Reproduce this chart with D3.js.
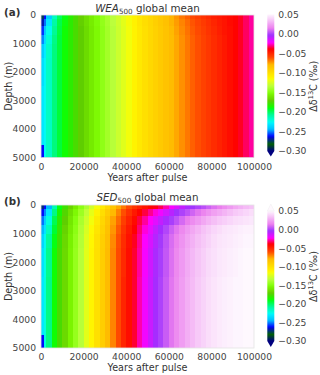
<!DOCTYPE html>
<html>
<head>
<meta charset="utf-8">
<script src="https://cdn.jsdelivr.net/npm/d3@7"></script>
<style>
  body { margin: 0; background: #fff; }
  text { font-family: "DejaVu Sans", sans-serif; fill: #333; }
</style>
</head>
<body>
<div id="chart-area"></div>
<script>

//  Grid of the model output (years after pulse, depth in m)

var timeEdges = [0, 1500, 2500, 5000, 7500, 10000, 12500, 15000, 17500, 20000,
    22500, 25000, 27500, 30000, 32500, 35000, 37500, 40000, 42500, 45000, 47500,
    50000, 52500, 55000, 57500, 60000, 62500, 65000, 67500, 70000, 72500, 75000,
    77500, 80000, 82500, 85000, 87500, 90000, 92500, 95000, 97500, 100000];
var depthEdges = [0, 150, 400, 700, 1000, 1500, 2500, 4550, 5000];

var xTicks = [0, 20000, 40000, 60000, 80000, 100000];
var yTicks = [0, 1000, 2000, 3000, 4000, 5000];
var cbTicks = [0.05, 0.00, -0.05, -0.10, -0.15, -0.20, -0.25, -0.30];

//  (a) WEA500 global mean, one array per depth band

var wea_0_150 = [-0.275, -0.262, -0.240, -0.215, -0.200, -0.190, -0.183, -0.176, -0.170, -0.164,
    -0.158, -0.152, -0.146, -0.140, -0.134, -0.128, -0.122, -0.116, -0.110, -0.104,
    -0.099, -0.095, -0.091, -0.087, -0.083, -0.078, -0.073, -0.068, -0.064, -0.060,
    -0.057, -0.054, -0.051, -0.048, -0.046, -0.044, -0.042, -0.040, -0.037, -0.033, -0.029];
var wea_150_400 = [-0.268, -0.252, -0.232, -0.210, -0.197, -0.189, -0.182, -0.176, -0.170, -0.164,
    -0.158, -0.152, -0.146, -0.140, -0.134, -0.128, -0.122, -0.116, -0.110, -0.104,
    -0.099, -0.095, -0.091, -0.087, -0.083, -0.078, -0.074, -0.070, -0.066, -0.062,
    -0.059, -0.056, -0.053, -0.050, -0.047, -0.045, -0.042, -0.040, -0.037, -0.033, -0.029];
var wea_400_700 = [-0.258, -0.242, -0.225, -0.207, -0.196, -0.188, -0.182, -0.176, -0.171, -0.165,
    -0.159, -0.153, -0.147, -0.141, -0.135, -0.129, -0.123, -0.117, -0.111, -0.105,
    -0.100, -0.096, -0.092, -0.088, -0.084, -0.079, -0.075, -0.071, -0.067, -0.063,
    -0.060, -0.057, -0.054, -0.051, -0.048, -0.045, -0.043, -0.040, -0.037, -0.033, -0.029];
var wea_700_1000 = [-0.250, -0.235, -0.220, -0.205, -0.195, -0.188, -0.182, -0.176, -0.171, -0.165,
    -0.159, -0.153, -0.147, -0.141, -0.135, -0.129, -0.123, -0.117, -0.111, -0.105,
    -0.100, -0.096, -0.092, -0.088, -0.084, -0.080, -0.076, -0.072, -0.068, -0.064,
    -0.061, -0.058, -0.055, -0.052, -0.049, -0.046, -0.043, -0.040, -0.037, -0.033, -0.029];
var wea_1000_1500 = [-0.240, -0.230, -0.217, -0.204, -0.195, -0.188, -0.182, -0.176, -0.171, -0.165,
    -0.159, -0.153, -0.147, -0.141, -0.135, -0.129, -0.123, -0.117, -0.111, -0.105,
    -0.100, -0.096, -0.092, -0.088, -0.084, -0.080, -0.076, -0.072, -0.068, -0.064,
    -0.061, -0.058, -0.055, -0.052, -0.049, -0.046, -0.043, -0.040, -0.037, -0.033, -0.029];
var wea_1500_2500 = [-0.235, -0.227, -0.216, -0.204, -0.195, -0.188, -0.182, -0.176, -0.171, -0.165,
    -0.159, -0.153, -0.147, -0.141, -0.135, -0.129, -0.123, -0.117, -0.111, -0.105,
    -0.100, -0.096, -0.092, -0.088, -0.084, -0.080, -0.076, -0.072, -0.068, -0.064,
    -0.061, -0.058, -0.055, -0.052, -0.049, -0.046, -0.043, -0.040, -0.037, -0.033, -0.029];
var wea_2500_4550 = [-0.232, -0.226, -0.216, -0.204, -0.195, -0.188, -0.182, -0.176, -0.171, -0.165,
    -0.159, -0.153, -0.147, -0.141, -0.135, -0.129, -0.123, -0.117, -0.111, -0.105,
    -0.100, -0.096, -0.092, -0.088, -0.084, -0.080, -0.076, -0.072, -0.068, -0.064,
    -0.061, -0.058, -0.055, -0.052, -0.049, -0.046, -0.043, -0.040, -0.037, -0.033, -0.029];
var wea_4550_5000 = [-0.262, -0.226, -0.216, -0.204, -0.195, -0.188, -0.182, -0.176, -0.171, -0.165,
    -0.159, -0.153, -0.147, -0.141, -0.135, -0.129, -0.123, -0.117, -0.111, -0.105,
    -0.100, -0.096, -0.092, -0.088, -0.084, -0.080, -0.076, -0.072, -0.068, -0.064,
    -0.061, -0.058, -0.055, -0.052, -0.049, -0.046, -0.043, -0.040, -0.037, -0.033, -0.029];

//  (b) SED500 global mean, one array per depth band

var sed_0_150 = [-0.272, -0.262, -0.245, -0.212, -0.190, -0.178, -0.168, -0.158, -0.148, -0.138,
    -0.127, -0.116, -0.105, -0.095, -0.085, -0.076, -0.068, -0.060, -0.054, -0.049,
    -0.045, -0.041, -0.038, -0.034, -0.028, -0.022, -0.016, -0.011, -0.006, -0.003,
    0.000, 0.003, 0.007, 0.011, 0.014, 0.018, 0.022, 0.026, 0.029, 0.032, 0.034];
var sed_150_400 = [-0.262, -0.250, -0.232, -0.205, -0.186, -0.174, -0.163, -0.153, -0.143, -0.132,
    -0.121, -0.110, -0.099, -0.089, -0.079, -0.070, -0.061, -0.053, -0.046, -0.040,
    -0.035, -0.030, -0.025, -0.020, -0.014, -0.009, -0.004, 0.000, 0.004, 0.008,
    0.012, 0.016, 0.020, 0.024, 0.027, 0.030, 0.033, 0.036, 0.038, 0.040, 0.042];
var sed_400_700 = [-0.252, -0.240, -0.222, -0.198, -0.182, -0.171, -0.160, -0.150, -0.139, -0.128,
    -0.117, -0.106, -0.095, -0.085, -0.075, -0.066, -0.057, -0.049, -0.042, -0.035,
    -0.029, -0.023, -0.017, -0.011, -0.006, -0.001, 0.004, 0.009, 0.014, 0.018,
    0.022, 0.026, 0.030, 0.033, 0.036, 0.038, 0.040, 0.042, 0.043, 0.044, 0.045];
var sed_700_1000 = [-0.245, -0.233, -0.215, -0.194, -0.180, -0.169, -0.158, -0.148, -0.137, -0.125,
    -0.114, -0.103, -0.093, -0.083, -0.073, -0.063, -0.054, -0.046, -0.039, -0.032,
    -0.025, -0.018, -0.011, -0.005, 0.001, 0.007, 0.012, 0.017, 0.022, 0.026,
    0.030, 0.034, 0.037, 0.040, 0.042, 0.044, 0.045, 0.046, 0.047, 0.048, 0.048];
var sed_1000_1500 = [-0.238, -0.226, -0.208, -0.190, -0.178, -0.167, -0.156, -0.146, -0.136, -0.123,
    -0.113, -0.101, -0.091, -0.081, -0.071, -0.061, -0.052, -0.044, -0.037, -0.030,
    -0.022, -0.015, -0.008, -0.002, 0.004, 0.010, 0.015, 0.020, 0.025, 0.029,
    0.033, 0.036, 0.039, 0.042, 0.044, 0.045, 0.046, 0.047, 0.048, 0.049, 0.049];
var sed_1500_2500 = [-0.234, -0.223, -0.206, -0.188, -0.176, -0.166, -0.155, -0.145, -0.135, -0.122,
    -0.112, -0.100, -0.090, -0.080, -0.070, -0.060, -0.051, -0.043, -0.036, -0.029,
    -0.021, -0.013, -0.006, -0.001, 0.005, 0.011, 0.017, 0.022, 0.027, 0.031,
    0.035, 0.038, 0.041, 0.043, 0.045, 0.046, 0.047, 0.048, 0.049, 0.050, 0.050];
var sed_2500_4550 = [-0.232, -0.222, -0.205, -0.188, -0.176, -0.166, -0.155, -0.145, -0.135, -0.122,
    -0.112, -0.100, -0.090, -0.080, -0.070, -0.060, -0.050, -0.043, -0.036, -0.028,
    -0.020, -0.012, -0.005, 0.000, 0.006, 0.012, 0.018, 0.023, 0.028, 0.032,
    0.036, 0.039, 0.042, 0.044, 0.046, 0.047, 0.048, 0.049, 0.049, 0.050, 0.050];
var sed_4550_5000 = [-0.262, -0.222, -0.205, -0.188, -0.176, -0.166, -0.155, -0.145, -0.135, -0.122,
    -0.112, -0.100, -0.090, -0.080, -0.070, -0.060, -0.050, -0.043, -0.036, -0.028,
    -0.020, -0.012, -0.005, 0.000, 0.006, 0.012, 0.018, 0.023, 0.028, 0.032,
    0.036, 0.039, 0.042, 0.044, 0.046, 0.047, 0.048, 0.049, 0.049, 0.050, 0.050];

var weaRows = [wea_0_150, wea_150_400, wea_400_700, wea_700_1000, wea_1000_1500, wea_1500_2500, wea_2500_4550, wea_4550_5000];
var sedRows = [sed_0_150, sed_150_400, sed_400_700, sed_700_1000, sed_1000_1500, sed_1500_2500, sed_2500_4550, sed_4550_5000];

//  gist_ncar colormap segments

var ncarR = [[0, 0], [0.3098, 0], [0.3725, 0.3993], [0.4235, 0.5003], [0.5333, 1], [0.7922, 1],
    [0.8471, 0.6218], [0.898, 0.9235], [1, 0.9961]];
var ncarG = [[0, 0], [0.051, 0.3722], [0.1059, 0], [0.1569, 0.7202], [0.1608, 0.7537], [0.1647, 0.7752],
    [0.2157, 1], [0.2588, 0.9804], [0.2706, 0.9804], [0.3176, 1], [0.3686, 0.8081], [0.4275, 1],
    [0.5216, 1], [0.6314, 0.7292], [0.6863, 0.2796], [0.7451, 0], [0.7922, 0], [0.8431, 0.1753],
    [0.898, 0.5], [1, 0.9725]];
var ncarB = [[0, 0.502], [0.051, 0.0222], [0.1098, 1], [0.2039, 1], [0.2627, 0.6145], [0.3216, 0],
    [0.4157, 0], [0.4745, 0.2342], [0.5333, 0], [0.7451, 0], [0.7922, 1], [0.8431, 1],
    [0.898, 0.9341], [1, 0.9961]];

var chan = (seg) => d3.scaleLinear().domain(seg.map((s) => s[0])).range(seg.map((s) => s[1])).clamp(true);
var cr = chan(ncarR), cg = chan(ncarG), cb = chan(ncarB);
var norm = d3.scaleLinear().domain([-0.30, 0.05]).range([0, 1]).clamp(true);
var cmapT = (t) => d3.rgb(cr(t) * 255, cg(t) * 255, cb(t) * 255).toString();
var color = (v) => cmapT(norm(v));

//  SVG canvas

var svg = d3.select("#chart-area").append("svg")
    .attr("width", 320)
    .attr("height", 375);

var defs = svg.append("defs");
var grad = defs.append("linearGradient")
    .attr("id", "cbar")
    .attr("x1", 0).attr("y1", 1).attr("x2", 0).attr("y2", 0);
grad.selectAll("stop")
    .data(d3.range(0, 1.0001, 0.01))
    .enter()
    .append("stop")
    .attr("offset", (d) => d)
    .attr("stop-color", (d) => cmapT(d));

var x = d3.scaleLinear().domain([0, 100000]).range([41, 254]);

var panels = [
    { tag: "(a)", name: "WEA", rows: weaRows, top: 15, bottom: 157.5,
      cbTop: 14.3, cbBot: 151, extTop: false, extBot: 156.5,
      titleY: 11.5, tagY: 16, tickY: 169.5, labelY: 180.5 },
    { tag: "(b)", name: "SED", rows: sedRows, top: 205, bottom: 348,
      cbTop: 211, cbBot: 341, extTop: 204, extBot: 347,
      titleY: 200.5, tagY: 204.5, tickY: 359.5, labelY: 370.5 }
];

panels.forEach((p) => {

    var y = d3.scaleLinear().domain([0, 5000]).range([p.top, p.bottom]);
    var g = svg.append("g");

    // heatmap cells

    var cells = [];
    p.rows.forEach((row, j) => {
        row.forEach((v, i) => {
            cells.push({ i: i, j: j, v: v });
        });
    });

    g.selectAll("rect.cell")
        .data(cells)
        .enter()
        .append("rect")
        .attr("class", "cell")
        .attr("x", (d) => x(timeEdges[d.i]))
        .attr("y", (d) => y(depthEdges[d.j]))
        .attr("width", (d) => x(timeEdges[d.i + 1]) - x(timeEdges[d.i]) + 0.4)
        .attr("height", (d) => y(depthEdges[d.j + 1]) - y(depthEdges[d.j]) + 0.4)
        .attr("fill", (d) => color(d.v))
        .attr("shape-rendering", "crispEdges");

    g.append("rect")
        .attr("x", 41).attr("y", p.top)
        .attr("width", 213).attr("height", p.bottom - p.top)
        .attr("fill", "none")
        .attr("stroke", "#e4e4e4")
        .attr("stroke-width", 0.8);

    // axes

    var xAxis = g.append("g")
        .attr("transform", "translate(0," + p.bottom + ")")
        .call(d3.axisBottom(x).tickValues(xTicks).tickFormat(d3.format("d")).tickSize(0).tickPadding(0));
    xAxis.select(".domain").remove();
    xAxis.selectAll("text")
        .attr("y", p.tickY - p.bottom)
        .attr("dy", 0)
        .attr("font-size", 9.2)
        .attr("font-family", "DejaVu Sans")
        .style("fill", "#444");

    var yAxis = g.append("g")
        .attr("transform", "translate(41,0)")
        .call(d3.axisLeft(y).tickValues(yTicks).tickFormat(d3.format("d")).tickSize(0).tickPadding(5));
    yAxis.select(".domain").remove();
    yAxis.selectAll("text")
        .attr("font-size", 9.2)
        .attr("font-family", "DejaVu Sans")
        .style("fill", "#444");

    g.append("text")
        .attr("x", 147.5).attr("y", p.labelY)
        .attr("text-anchor", "middle")
        .attr("font-size", 9.6)
        .text("Years after pulse");

    g.append("text")
        .attr("transform", "translate(12," + ((p.top + p.bottom) / 2) + ") rotate(-90)")
        .attr("text-anchor", "middle")
        .attr("font-size", 9.6)
        .text("Depth (m)");

    // title and panel tag

    var title = g.append("text")
        .attr("x", 147.5).attr("y", p.titleY)
        .attr("text-anchor", "middle")
        .attr("font-size", 10.3);
    title.append("tspan").attr("font-style", "italic").text(p.name);
    title.append("tspan").attr("font-size", 7.2).attr("dy", 2.6).text("500");
    title.append("tspan").attr("dy", -2.6).text(" global mean");

    g.append("text")
        .attr("x", 4).attr("y", p.tagY)
        .attr("font-size", 10.3)
        .attr("font-weight", "bold")
        .text(p.tag);

    // colorbar

    var c = d3.scaleLinear().domain([-0.30, 0.05]).range([p.cbBot, p.cbTop]);
    var cx0 = 267.3, cw = 7;

    g.append("rect")
        .attr("x", cx0).attr("y", c(0.05))
        .attr("width", cw).attr("height", c(-0.30) - c(0.05))
        .attr("fill", "url(#cbar)");

    g.append("path")
        .attr("d", "M" + cx0 + "," + c(-0.30) + "L" + (cx0 + cw) + "," + c(-0.30) + "L" + (cx0 + cw / 2) + "," + p.extBot + "Z")
        .attr("fill", color(-0.31));

    if (p.extTop) {
        g.append("path")
            .attr("d", "M" + cx0 + "," + c(0.05) + "L" + (cx0 + cw) + "," + c(0.05) + "L" + (cx0 + cw / 2) + "," + p.extTop + "Z")
            .attr("fill", color(0.06))
            .attr("stroke", "#eee")
            .attr("stroke-width", 0.5);
    }

    var cAxis = g.append("g")
        .attr("transform", "translate(" + (cx0 + cw) + ",0)")
        .call(d3.axisRight(c).tickValues(cbTicks).tickFormat(d3.format(".2f")).tickSize(0).tickPadding(4));
    cAxis.select(".domain").remove();
    cAxis.selectAll("text")
        .attr("font-size", 9.2)
        .attr("font-family", "DejaVu Sans")
        .style("fill", "#444");

    var cl = g.append("text")
        .attr("transform", "translate(317," + ((p.top + p.bottom) / 2) + ") rotate(-90)")
        .attr("text-anchor", "middle")
        .attr("font-size", 9.6);
    cl.append("tspan").text("\u0394\u03b4");
    cl.append("tspan").attr("font-size", 6.6).attr("dy", -3.6).text("13");
    cl.append("tspan").attr("dy", 3.6).text("C (\u2030)");

});

</script>
</body>
</html>
